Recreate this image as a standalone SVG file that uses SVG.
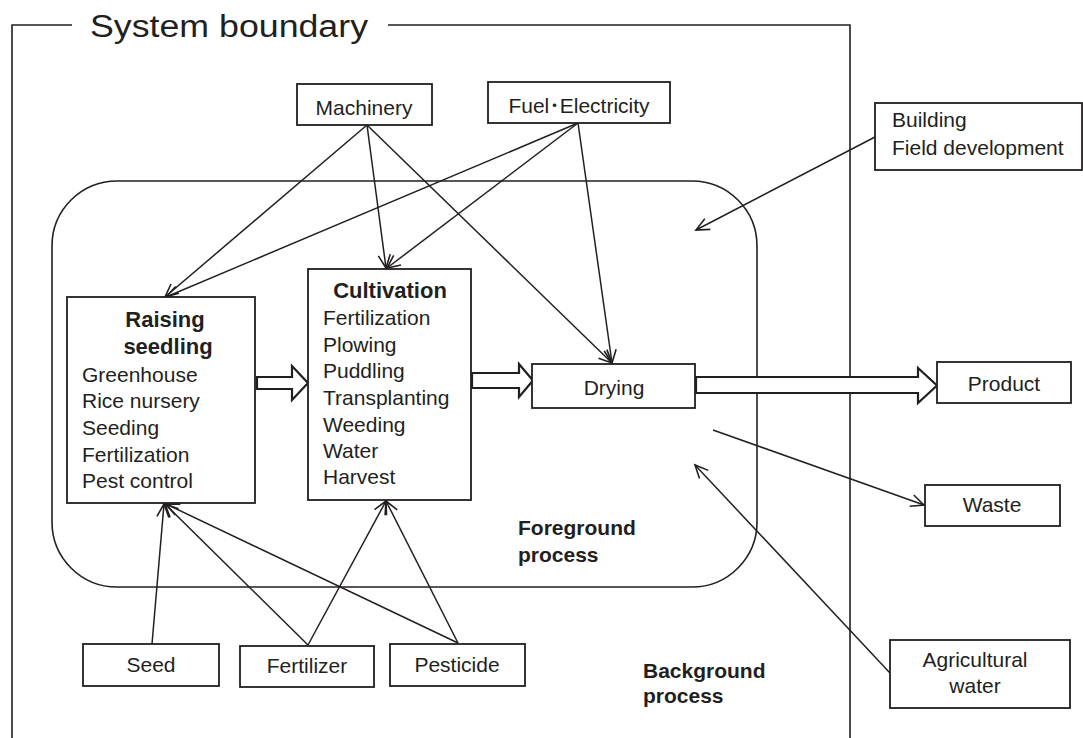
<svg xmlns="http://www.w3.org/2000/svg" width="1083" height="738" viewBox="0 0 1083 738">
<defs>
<style>
text{font-family:"Liberation Sans","Noto Sans CJK JP",Arial,sans-serif;fill:#231f20;font-size:21px}
.t{font-size:31px}
.b{font-weight:bold;font-size:22px}
.fb{font-weight:bold;font-size:21px}
.box{fill:#fff;stroke:#231f20;stroke-width:1.8}
.ln{fill:none;stroke:#231f20;stroke-width:1.6}
.con{fill:none;stroke:#231f20;stroke-width:1.5;marker-end:url(#ah)}
.big{fill:#fff;stroke:#231f20;stroke-width:2.2;stroke-linejoin:miter}
.mid{text-anchor:middle}
</style>
<marker id="ah" markerUnits="userSpaceOnUse" markerWidth="30" markerHeight="30" refX="0" refY="0" viewBox="-15 -15 30 30" orient="auto">
<path d="M-13,-6 L0,0 L-13,6" fill="none" stroke="#231f20" stroke-width="1.6"/>
</marker>
</defs>
<rect width="1083" height="738" fill="#fff"/>
<g id="boundary">
<path class="ln" d="M12,738 L12,25 L72,25 M388,25 L850,25 L850,738"/>
<text class="t" x="90" y="37" textLength="278" lengthAdjust="spacingAndGlyphs">System boundary</text>
</g>
<g id="foreground">
<rect x="52" y="181" width="705" height="406" rx="65" ry="65" class="ln" stroke-width="1.8"/>
<text class="fb" x="518" y="535">Foreground</text>
<text class="fb" x="518" y="562">process</text>
</g>
<g id="background">
<text class="fb" x="643" y="678">Background</text>
<text class="fb" x="643" y="703">process</text>
</g>
<g id="connectors">
<line class="con" x1="367" y1="125" x2="165" y2="297"/>
<line class="con" x1="367" y1="125" x2="386" y2="268"/>
<line class="con" x1="367" y1="125" x2="612" y2="363"/>
<line class="con" x1="578" y1="123" x2="166" y2="297"/>
<line class="con" x1="578" y1="123" x2="387" y2="268"/>
<line class="con" x1="578" y1="123" x2="612" y2="363"/>
<line class="con" x1="875" y1="137" x2="696" y2="230"/>
<line class="con" x1="713" y1="430" x2="924" y2="505"/>
<line class="con" x1="890" y1="673" x2="695" y2="465"/>
<line class="con" x1="152" y1="644" x2="164" y2="504"/>
<line class="con" x1="308" y1="645" x2="165" y2="504"/>
<line class="con" x1="308" y1="645" x2="386" y2="501"/>
<line class="con" x1="458" y1="643" x2="166" y2="504"/>
<line class="con" x1="458" y1="643" x2="386" y2="501"/>
<path class="big" d="M257,377 L292,377 L292,366 L308,383 L292,400 L292,389 L257,389 Z"/>
<path class="big" d="M472,373 L519,373 L519,364 L533,380.5 L519,397 L519,388 L472,388 Z"/>
<path class="big" d="M696,377 L918,377 L918,368 L937,385.5 L918,403 L918,393 L696,393 Z"/>
</g>
<g id="machinery">
<rect class="box" x="297" y="84" width="135" height="41"/>
<text class="mid" x="364" y="115">Machinery</text>
</g>
<g id="fuel">
<rect class="box" x="488" y="82" width="182" height="41"/>
<text class="mid" x="579" y="113">Fuel･Electricity</text>
</g>
<g id="building">
<rect class="box" x="875" y="103" width="207" height="67"/>
<text x="892" y="127">Building</text>
<text x="892" y="155">Field development</text>
</g>
<g id="raising">
<rect class="box" x="67" y="297" width="188" height="206"/>
<text class="b mid" x="165" y="327">Raising</text>
<text class="b mid" x="168" y="354">seedling</text>
<text x="82" y="382">Greenhouse</text>
<text x="82" y="408">Rice nursery</text>
<text x="82" y="435">Seeding</text>
<text x="82" y="462">Fertilization</text>
<text x="82" y="488">Pest control</text>
</g>
<g id="cultivation">
<rect class="box" x="308" y="269" width="163" height="231"/>
<text class="b mid" x="390" y="298">Cultivation</text>
<text x="323" y="325">Fertilization</text>
<text x="323" y="352">Plowing</text>
<text x="323" y="378">Puddling</text>
<text x="323" y="405">Transplanting</text>
<text x="323" y="432">Weeding</text>
<text x="323" y="458">Water</text>
<text x="323" y="484">Harvest</text>
</g>
<g id="drying">
<rect class="box" x="532" y="364" width="163" height="44"/>
<text class="mid" x="614" y="395">Drying</text>
</g>
<g id="product">
<rect class="box" x="937" y="362" width="134" height="41"/>
<text class="mid" x="1004" y="391">Product</text>
</g>
<g id="waste">
<rect class="box" x="925" y="485" width="135" height="41"/>
<text class="mid" x="992" y="512">Waste</text>
</g>
<g id="seed">
<rect class="box" x="83" y="644" width="136" height="42"/>
<text class="mid" x="151" y="672">Seed</text>
</g>
<g id="fertilizer">
<rect class="box" x="240" y="646" width="134" height="41"/>
<text class="mid" x="307" y="673">Fertilizer</text>
</g>
<g id="pesticide">
<rect class="box" x="390" y="644" width="135" height="42"/>
<text class="mid" x="457" y="672">Pesticide</text>
</g>
<g id="water">
<rect class="box" x="890" y="640" width="180" height="68"/>
<text class="mid" x="975" y="667">Agricultural</text>
<text class="mid" x="975" y="693">water</text>
</g>
</svg>
